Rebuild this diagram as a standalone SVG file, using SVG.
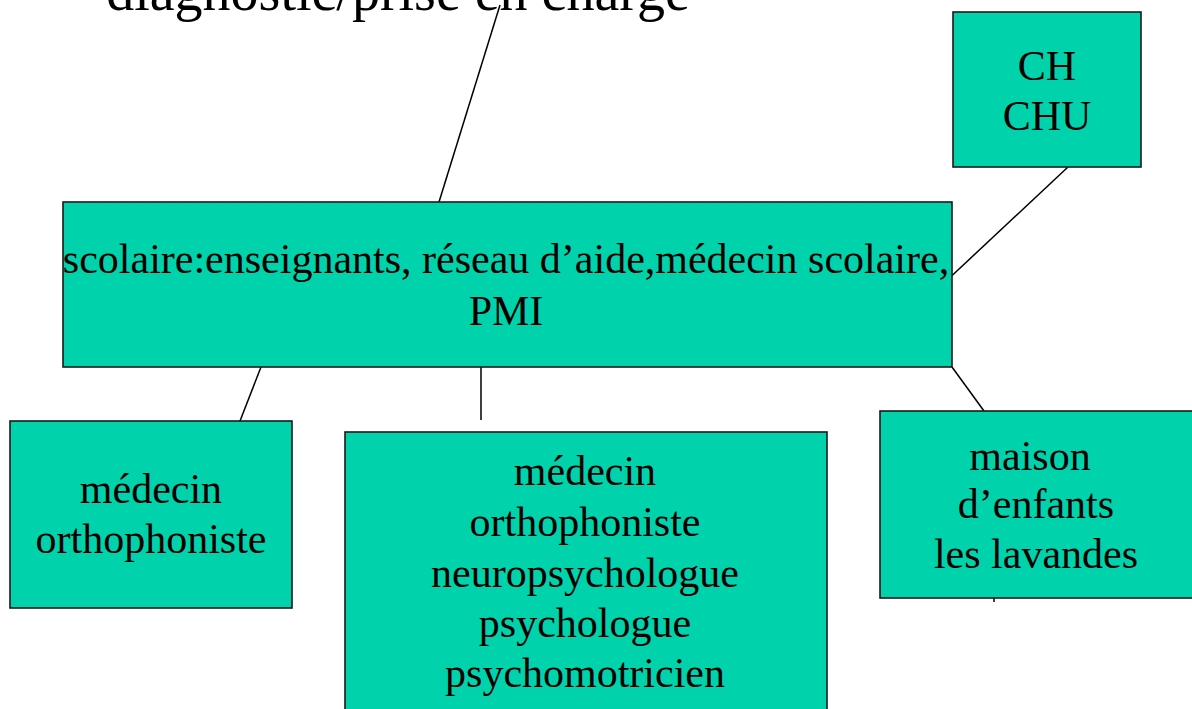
<svg xmlns="http://www.w3.org/2000/svg" width="1192" height="709" viewBox="0 0 1192 709">
<style>
.box{fill:#00D3AC;stroke:#1a1a1a;stroke-width:1.6}
.t{font-family:"Liberation Serif","Times New Roman",serif;font-size:42px;fill:#000;text-anchor:middle}
.title{font-family:"Liberation Serif","Times New Roman",serif;font-size:56px;fill:#000;text-anchor:middle}
.c{stroke:#000;stroke-width:1.5;fill:none}
</style>
<rect width="1192" height="709" fill="#fff"/>
<text class="title" x="398" y="10">diagnostic/prise en charge</text>
<g id="connectors">
<line class="c" x1="500" y1="5" x2="439" y2="202"/>
<line class="c" x1="1068" y1="167" x2="943" y2="284"/>
<line class="c" x1="261" y1="367" x2="240" y2="421"/>
<line class="c" x1="481" y1="367" x2="481" y2="420"/>
<line class="c" x1="952" y1="367" x2="984" y2="411"/>
<line class="c" x1="994" y1="560" x2="994" y2="602"/>
</g>
<g id="main">
<rect class="box" x="63" y="202" width="889" height="165"/>
<text class="t" x="506" y="273">scolaire:enseignants, réseau d’aide,médecin scolaire,</text>
<text class="t" x="506" y="325">PMI</text>
</g>
<g id="chu">
<rect class="box" x="953" y="12" width="188" height="155"/>
<text class="t" x="1047" y="80">CH</text>
<text class="t" x="1047" y="130">CHU</text>
</g>
<g id="left">
<rect class="box" x="10" y="421" width="282" height="187"/>
<text class="t" x="151" y="503">médecin</text>
<text class="t" x="151" y="553">orthophoniste</text>
</g>
<g id="middle">
<rect class="box" x="345" y="432" width="482" height="290"/>
<text class="t" x="585" y="485">médecin</text>
<text class="t" x="585" y="536">orthophoniste</text>
<text class="t" x="585" y="587">neuropsychologue</text>
<text class="t" x="585" y="637">psychologue</text>
<text class="t" x="585" y="687">psychomotricien</text>
</g>
<g id="maison">
<rect class="box" x="880" y="411" width="330" height="187"/>
<text class="t" x="1030" y="470">maison</text>
<text class="t" x="1036" y="518">d’enfants</text>
<text class="t" x="1036" y="568">les lavandes</text>
</g>
</svg>
